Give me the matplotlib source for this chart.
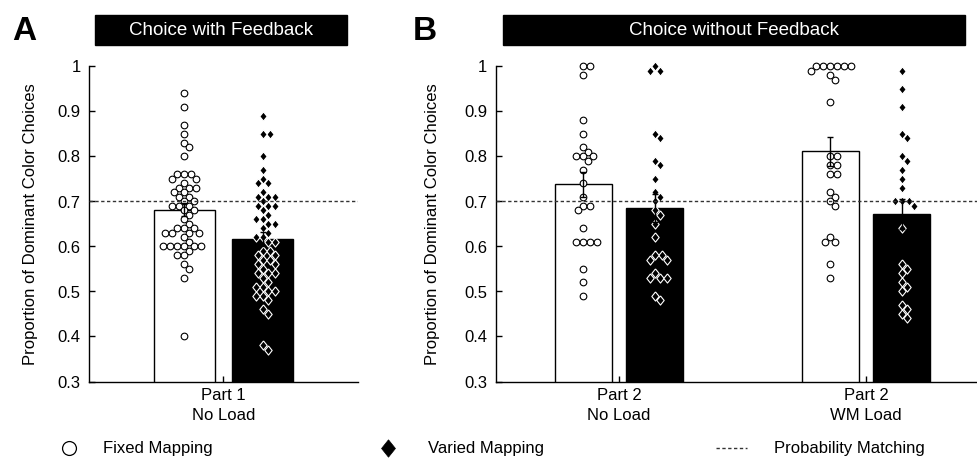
import matplotlib.pyplot as plt
import numpy as np
from matplotlib.patches import Rectangle

plt.rcParams['font.family'] = ['Liberation Sans', 'DejaVu Sans']

# proportion of dominant colour choices, one value per participant
a_fixed = [0.94, 0.91, 0.87, 0.85, 0.83, 0.82, 0.80, 0.76, 0.76, 0.76, 0.75, 0.75,
           0.74, 0.73, 0.73, 0.73, 0.72, 0.72, 0.71, 0.71, 0.70, 0.70, 0.69, 0.69,
           0.69, 0.68, 0.68, 0.67, 0.66, 0.65, 0.64, 0.64, 0.64, 0.63, 0.63, 0.63,
           0.63, 0.62, 0.61, 0.60, 0.60, 0.60, 0.60, 0.60, 0.60, 0.59, 0.58, 0.58,
           0.56, 0.55, 0.53, 0.40]
a_varied = [0.89, 0.85, 0.85, 0.80, 0.77, 0.75, 0.74, 0.74, 0.72, 0.71, 0.71, 0.71,
            0.70, 0.69, 0.69, 0.69, 0.68, 0.67, 0.66, 0.66, 0.65, 0.65, 0.64, 0.63,
            0.62, 0.62, 0.61, 0.61, 0.59, 0.59, 0.58, 0.58, 0.57, 0.57, 0.56, 0.56,
            0.55, 0.54, 0.54, 0.54, 0.53, 0.52, 0.51, 0.51, 0.50, 0.50, 0.49, 0.49,
            0.48, 0.46, 0.45, 0.38, 0.37]
b1_fixed = [1.00, 1.00, 0.98, 0.88, 0.85, 0.82, 0.81, 0.80, 0.80, 0.80, 0.79, 0.77,
            0.74, 0.71, 0.69, 0.69, 0.68, 0.64, 0.61, 0.61, 0.61, 0.61, 0.55, 0.52,
            0.49]
b1_varied = [1.00, 0.99, 0.99, 0.85, 0.84, 0.79, 0.78, 0.75, 0.72, 0.71, 0.70, 0.68,
             0.67, 0.65, 0.62, 0.58, 0.58, 0.57, 0.57, 0.54, 0.53, 0.53, 0.53, 0.49,
             0.48]
b2_fixed = [1.00, 1.00, 1.00, 1.00, 1.00, 1.00, 0.99, 0.98, 0.97, 0.92, 0.80, 0.80,
            0.78, 0.78, 0.76, 0.76, 0.72, 0.71, 0.70, 0.69, 0.62, 0.61, 0.61, 0.56,
            0.53]
b2_varied = [0.99, 0.95, 0.91, 0.85, 0.84, 0.80, 0.79, 0.77, 0.75, 0.73, 0.70, 0.70,
             0.70, 0.69, 0.64, 0.56, 0.55, 0.54, 0.52, 0.51, 0.50, 0.47, 0.46, 0.45,
             0.44]

a_groups = ['Part 1\nNo Load']
b_groups = ['Part 2\nNo Load', 'Part 2\nWM Load']
chance = 0.7
yticks = [0.3, 0.4, 0.5, 0.6, 0.7, 0.8, 0.9, 1.0]
ytick_labels = ['0.3', '0.4', '0.5', '0.6', '0.7', '0.8', '0.9', '1']

W, H = 978, 469
fig = plt.figure(figsize=(W / 100, H / 100), dpi=100)


def px_axes(x0, x1, y_top, y_bot):
    return fig.add_axes([x0 / W, 1 - y_bot / H, (x1 - x0) / W, (y_bot - y_top) / H])


def swarm_x(ax, xc, vals, diam):
    # simple beeswarm: push points sideways (in pixels) until they stop overlapping
    pts = ax.transData.transform(np.column_stack([np.full(len(vals), xc), vals]))
    order = np.argsort(vals)[::-1]
    placed = []
    out = np.zeros(len(vals))
    for i in order:
        px, py = pts[i]
        for k in range(0, 400):
            done = False
            for off in ([0] if k == 0 else [k * 0.5, -k * 0.5]):
                ok = all((px + off - qx) ** 2 + (py - qy) ** 2 >= diam ** 2 for qx, qy in placed)
                if ok:
                    placed.append((px + off, py))
                    out[i] = ax.transData.inverted().transform((px + off, py))[0]
                    done = True
                    break
            if done:
                break
    return out


diamond = [(0, 1), (0.8, 0), (0, -1), (-0.8, 0), (0, 1)]
off, bw = 0.145, 0.23


def panel(ax, groups, fixed_sets, varied_sets, xlim):
    ax.set_xlim(*xlim)
    ax.set_ylim(0.3, 1.0)
    ax.axhline(chance, color='#333333', lw=1, ls=(0, (2.4, 1.8)), zorder=5)
    pos = np.arange(1, len(groups) + 1)
    for p, fv, vv in zip(pos, fixed_sets, varied_sets):
        fv, vv = np.array(fv), np.array(vv)
        for x, v, col in [(p - off, fv, 'white'), (p + off, vv, 'black')]:
            m = v.mean()
            se = v.std(ddof=1) / np.sqrt(len(v))
            ax.bar(x, m, width=bw, bottom=0, color=col, edgecolor='black', lw=1, zorder=1)
            ax.errorbar(x, m, yerr=se, fmt='none', ecolor='black', elinewidth=1,
                        capsize=2.5, capthick=1, zorder=4)
        ax.plot(swarm_x(ax, p - off, fv, 6.6), fv, ls='none', marker='o', ms=4.8,
                mfc='white', mec='black', mew=0.8, zorder=3, clip_on=False)
        ax.plot(swarm_x(ax, p + off, vv, 6.6), vv, ls='none', marker=diamond, ms=6.6,
                mfc='black', mec='white', mew=0.8, zorder=3, clip_on=False)
    ax.set_xticks(pos)
    ax.set_xticklabels(groups, fontsize=12, linespacing=1.35)
    ax.set_yticks(yticks)
    ax.set_yticklabels(ytick_labels, fontsize=12)
    ax.tick_params(direction='in', length=4, width=1, pad=5)
    ax.tick_params(axis='y', pad=6)
    for s in ['top', 'right']:
        ax.spines[s].set_visible(False)
    for s in ['left', 'bottom']:
        ax.spines[s].set_linewidth(1)


axA = px_axes(89, 358, 66.5, 381.5)
axB = px_axes(495.5, 989.5, 66.5, 381.5)
panel(axA, a_groups, [a_fixed], [a_varied], (0.5, 1.5))
panel(axB, b_groups, [b1_fixed, b2_fixed], [b1_varied, b2_varied], (0.5, 2.5))

axA.set_ylabel('Proportion of Dominant Color Choices', fontsize=12, va='center')
axA.yaxis.set_label_coords((30 - 89) / 269, 0.5)
axB.set_ylabel('Proportion of Dominant Color Choices', fontsize=12, va='center')
axB.yaxis.set_label_coords((433 - 495.5) / 494, 0.5)

# titles, panel letters and legend in pixel coordinates
ov = fig.add_axes([0, 0, 1, 1])
ov.set_xlim(0, W)
ov.set_ylim(H, 0)
ov.axis('off')

ov.add_patch(Rectangle((95, 15), 252, 30, color='black'))
ov.text(221, 30.5, 'Choice with Feedback', color='white', fontsize=13.5, ha='center', va='center')
ov.add_patch(Rectangle((503, 15), 462, 30, color='black'))
ov.text(734, 30.5, 'Choice without Feedback', color='white', fontsize=13.5, ha='center', va='center')
ov.text(24, 31, 'A', fontsize=24, fontweight='bold', ha='center', va='center')
ov.text(425, 31, 'B', fontsize=24, fontweight='bold', ha='center', va='center')

ov.plot([69], [448], marker='o', ms=10, mfc='white', mec='black', mew=0.9)
ov.text(103, 448, 'Fixed Mapping', fontsize=12, va='center')
ov.plot([388], [448], marker=diamond, ms=12.5, mfc='black', mec='black', mew=0.5)
ov.text(428, 448, 'Varied Mapping', fontsize=12, va='center')
ov.plot([716, 747], [448, 448], color='#333333', lw=1, ls=(0, (2.4, 1.8)))
ov.text(774, 448, 'Probability Matching', fontsize=12, va='center')

fig.savefig('out.png', dpi=100)
